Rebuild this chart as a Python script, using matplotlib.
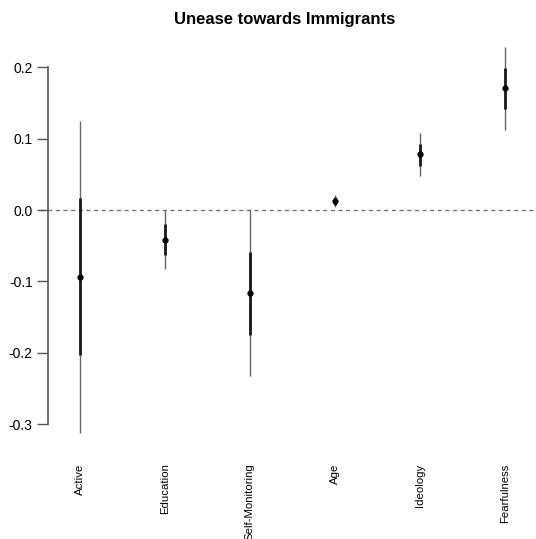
import numpy as np
import matplotlib
matplotlib.use("Agg")
import matplotlib.pyplot as plt

# coefficient estimates with 1-SE (thick) and 2-SE (thin) intervals
labels = ["Active", "Education", "Self-Monitoring", "Age", "Ideology", "Fearfulness"]
est = [-0.094, -0.042, -0.116, 0.013, 0.078, 0.171]
inner_lo = [-0.203, -0.063, -0.175, 0.007, 0.062, 0.141]
inner_hi = [0.017, -0.020, -0.059, 0.018, 0.092, 0.199]
outer_lo = [-0.312, -0.083, -0.232, 0.004, 0.048, 0.112]
outer_hi = [0.125, 0.000, 0.001, 0.021, 0.108, 0.228]
yticks = [-0.3, -0.2, -0.1, 0.0, 0.1, 0.2]

plt.rcParams["font.family"] = ["Liberation Sans", "DejaVu Sans"]

W, H = 536, 539
fig = plt.figure(figsize=(W / 100, H / 100), dpi=100)
# plot region in pixels: left 40, right 550, top 40, bottom 440
ax = fig.add_axes([40 / W, 1 - 440 / H, 510 / W, 400 / H])

x = np.arange(1, len(labels) + 1)
ax.axhline(0, color="#777777", lw=1, ls=(0, (3, 2.5)), zorder=1)
ax.vlines(x, outer_lo, outer_hi, color="#666666", lw=1.0, zorder=2)
ax.vlines(x, inner_lo, inner_hi, color="#1a1a1a", lw=2.0, zorder=3)
ax.plot(x, est, "o", color="black", ms=3.5, zorder=4)

ax.set_xlim(0.53, 6.53)
ax.set_ylim(-0.322, 0.238)

for s in ["top", "right", "bottom"]:
    ax.spines[s].set_visible(False)
ax.spines["left"].set_position(("data", 0.624))
ax.spines["left"].set_bounds(-0.3, 0.2)
ax.spines["left"].set_color("#555555")
ax.spines["left"].set_linewidth(1.2)

ax.set_yticks(yticks)
ax.set_yticklabels([f"{v:.1f}" for v in yticks])
ax.tick_params(axis="y", length=8, width=1.0, color="#555555", labelsize=10, pad=3)

ax.set_xticks(x)
ax.set_xticklabels(labels, rotation=90, fontsize=8.2)
ax.tick_params(axis="x", length=0, pad=17)

ax.set_title("Unease towards Immigrants", fontsize=12, fontweight="bold",
             pad=11.5, x=0.479)

fig.savefig("out.png", dpi=100)
